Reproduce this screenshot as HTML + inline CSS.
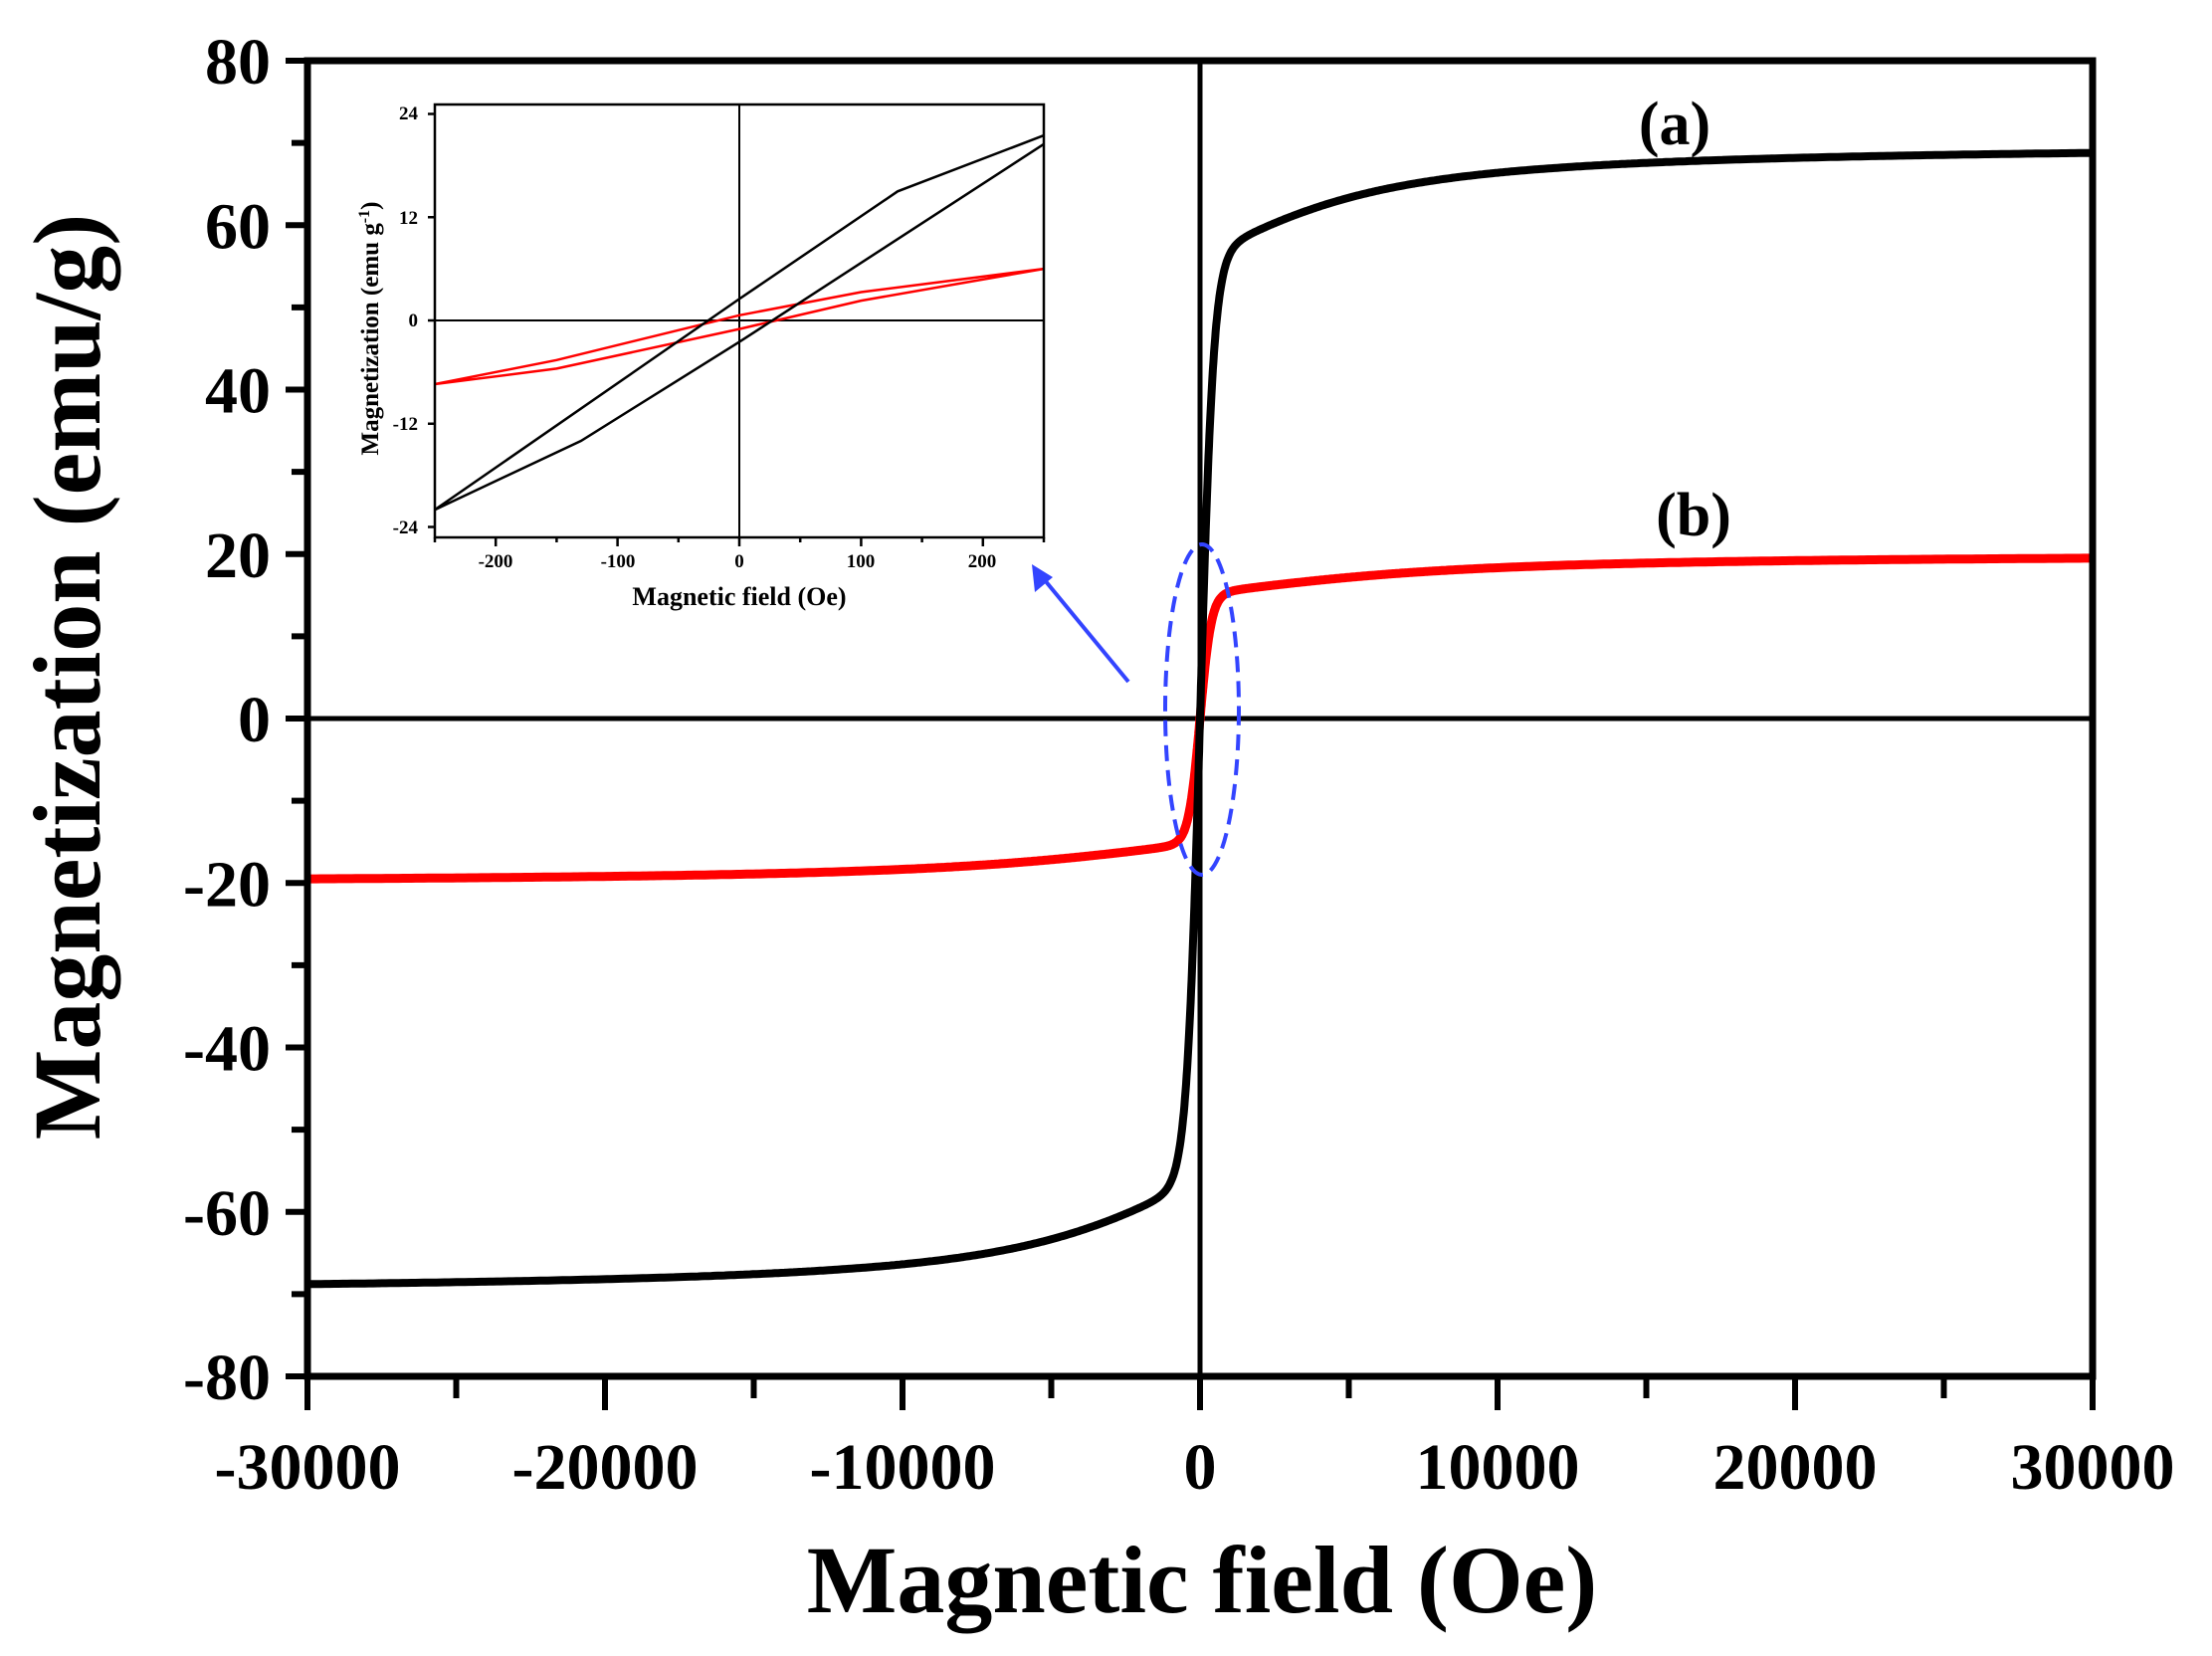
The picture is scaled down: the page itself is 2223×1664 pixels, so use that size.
<!DOCTYPE html>
<html><head><meta charset="utf-8"><style>
html,body{margin:0;padding:0;background:#fff;}
svg{display:block;}
text{font-family:"Liberation Serif",serif;font-weight:bold;fill:#000;}
</style></head><body>
<svg id="s" width="2223" height="1664" viewBox="0 0 2223 1664" xmlns="http://www.w3.org/2000/svg">
<rect width="2223" height="1664" fill="#fff"/>
<line x1="309" y1="722" x2="2103" y2="722" stroke="#000" stroke-width="5"/>
<line x1="1206" y1="61" x2="1206" y2="1383" stroke="#000" stroke-width="5"/>
<g id="ticks" stroke="#000" stroke-width="6"></g>
<path id="red" fill="none" stroke="#f00" stroke-width="9" stroke-linejoin="round"/>
<path id="blk" fill="none" stroke="#000" stroke-width="8" stroke-linejoin="round"/>
<rect x="309" y="61" width="1794" height="1322" fill="none" stroke="#000" stroke-width="7"/>
<g id="ylab" font-size="66" text-anchor="end"></g>
<g id="xlab" font-size="66" text-anchor="middle"></g>
<text x="1208" y="1620" font-size="96" text-anchor="middle">Magnetic field (Oe)</text>
<text transform="translate(100,680) rotate(-90)" font-size="96" text-anchor="middle">Magnetization (emu/g)</text>
<text x="1683" y="145" font-size="62" text-anchor="middle">(a)</text>
<text x="1702" y="538" font-size="62" text-anchor="middle">(b)</text>
<ellipse cx="1208" cy="713" rx="37" ry="166" fill="none" stroke="#3344ff" stroke-width="4" stroke-dasharray="16,9"/>
<line x1="1134" y1="685" x2="1045" y2="577" stroke="#3344ff" stroke-width="4"/>
<polygon points="1037,567 1040,595 1058,580" fill="#3344ff"/>
<g id="inset">
<line x1="437" y1="322" x2="1049" y2="322" stroke="#000" stroke-width="2"/>
<line x1="743" y1="105" x2="743" y2="540" stroke="#000" stroke-width="2"/>
<g id="iticks" stroke="#000" stroke-width="2.5"></g>
<path id="ired" fill="none" stroke="#f00" stroke-width="2.5"/>
<path id="iblk" fill="none" stroke="#000" stroke-width="2.5"/>
<rect x="437" y="105" width="612" height="435" fill="none" stroke="#000" stroke-width="2.5"/>
<g font-size="19" font-weight="normal">
<text x="420" y="120" text-anchor="end">24</text>
<text x="420" y="225" text-anchor="end">12</text>
<text x="420" y="328" text-anchor="end">0</text>
<text x="420" y="432" text-anchor="end">-12</text>
<text x="420" y="536" text-anchor="end">-24</text>
<text x="498" y="570" text-anchor="middle">-200</text>
<text x="621" y="570" text-anchor="middle">-100</text>
<text x="743" y="570" text-anchor="middle">0</text>
<text x="865" y="570" text-anchor="middle">100</text>
<text x="987" y="570" text-anchor="middle">200</text>
</g>
<text x="743" y="608" font-size="26" text-anchor="middle">Magnetic field (Oe)</text>
<text transform="translate(380,330) rotate(-90)" font-size="25" text-anchor="middle">Magnetization (emu g<tspan dy="-9" font-size="16">-1</tspan><tspan dy="9">)</tspan></text>
</g>
</svg>
<script>
var NS="http://www.w3.org/2000/svg";
function X(h){return 1206+h*897/30000;}
function Y(m){return 722-m*661/80;}
var t=document.getElementById('ticks');
function ln(g,x1,y1,x2,y2){var l=document.createElementNS(NS,'line');l.setAttribute('x1',x1);l.setAttribute('y1',y1);l.setAttribute('x2',x2);l.setAttribute('y2',y2);g.appendChild(l);}
for(var m=-80;m<=80;m+=10){var y=Y(m);ln(t,309,y,(m%20==0)?287:293,y);}
for(var h=-30000;h<=30000;h+=5000){var x=X(h);ln(t,x,1383,x,(h%10000==0)?1417:1405);}
var yl=document.getElementById('ylab');
for(var m=-80;m<=80;m+=20){var e=document.createElementNS(NS,'text');e.setAttribute('x',272);e.setAttribute('y',Y(m)+23);e.textContent=m;yl.appendChild(e);}
var xl=document.getElementById('xlab');
for(var h=-30000;h<=30000;h+=10000){var e=document.createElementNS(NS,'text');e.setAttribute('x',X(h));e.setAttribute('y',1496);e.textContent=h;xl.appendChild(e);}
function L(x){if(Math.abs(x)<1e-4)return x/3;return 1/Math.tanh(x)-1/x;}
function pth(f){var d='';for(var i=0;i<=800;i++){var u=(i-400)/400;var h=30000*Math.sign(u)*Math.pow(Math.abs(u),2);d+=(i?'L':'M')+X(h).toFixed(1)+' '+Y(f(h)).toFixed(1);}return d;}
document.getElementById('blk').setAttribute('d',pth(function(h){return 56*Math.tanh(h/450)+14*L(h/2600);}));
document.getElementById('red').setAttribute('d',pth(function(h){return 15.1*Math.tanh(h/380)+5*L(h/3600);}));
function IX(h){return 743+h*1.224;}
function IY(m){return 322-m*8.646;}
var it=document.getElementById('iticks');
[24,12,0,-12,-24].forEach(function(m){ln(it,437,IY(m),430,IY(m));});
for(var h=-250;h<=250;h+=50){ln(it,IX(h),540,IX(h),(h%100==0)?549:545);}
function pl(a){return a.map(function(p,i){return (i?'L':'M')+IX(p[0]).toFixed(1)+' '+IY(p[1]).toFixed(1);}).join('');}
document.getElementById('iblk').setAttribute('d',pl([[250,21.5],[130,15],[0,2.5],[-250,-22],[-130,-14],[0,-2.5],[250,20.5]]));
document.getElementById('ired').setAttribute('d',pl([[250,6],[100,3.3],[0,0.6],[-150,-4.6],[-250,-7.4],[-150,-5.6],[0,-1],[100,2.3],[250,6]]));
</script>
</body></html>
